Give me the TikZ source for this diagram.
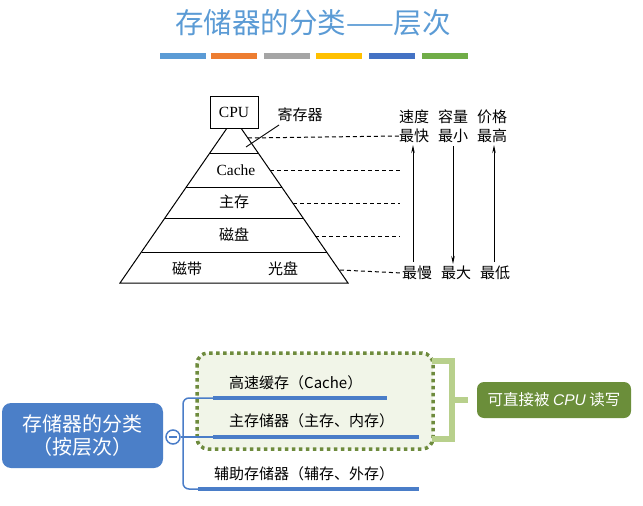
\documentclass[tikz,border=0pt]{standalone}
\usepackage{fontspec}
\setmainfont{Liberation Serif}
\newfontfamily\cjk{Noto Sans CJK SC}
\newfontfamily\lsans{Liberation Sans}
\usetikzlibrary{arrows.meta}
\definecolor{titleblue}{HTML}{5B9BD5}
\definecolor{barA}{HTML}{5B9BD5}
\definecolor{barB}{HTML}{ED7D31}
\definecolor{barC}{HTML}{A5A5A5}
\definecolor{barD}{HTML}{FFC000}
\definecolor{barE}{HTML}{4472C4}
\definecolor{barF}{HTML}{70AD47}
\definecolor{rootblue}{HTML}{4B7FC8}
\definecolor{linkblue}{HTML}{4A7DC8}
\definecolor{dotgreen}{HTML}{6E8B3D}
\definecolor{boxfill}{HTML}{F1F5E8}
\definecolor{brgreen}{HTML}{B8D08C}
\definecolor{nodegreen}{HTML}{6B8E3A}
\tikzset{
  pyr/.style={line width=1pt, draw=black},
  pyrtext/.style={font=\cjk\fontsize{15}{17}\selectfont, inner sep=0pt},
  lattext/.style={font=\fontsize{15.5}{17}\selectfont, inner sep=0pt},
  guide/.style={line width=1pt, dash pattern=on 4pt off 3pt},
  axisarrow/.style={line width=0.9pt, -{Stealth[length=8pt,width=3.5pt]}},
  bar/.style={line width=6pt},
  mmtext/.style={font=\cjk\fontsize{15}{17}\selectfont, inner sep=0pt, anchor=west},
  uline/.style={line width=4pt, draw=linkblue},
  branch/.style={line width=1.5pt, draw=linkblue},
}
\begin{document}
\begin{tikzpicture}[x=1pt,y=-1pt]
\useasboundingbox (0,0) rectangle (643,506);
% title
\node[font=\cjk\fontsize{28.5}{31}\selectfont, text=titleblue, inner sep=0pt] (title) at (313,23) {存储器的分类——层次};
\draw[bar,barA] (160,56) -- (206,56);
\draw[bar,barB] (211,56) -- (257,56);
\draw[bar,barC] (264,56) -- (310,56);
\draw[bar,barD] (316,56) -- (362,56);
\draw[bar,barE] (369,56) -- (415,56);
\draw[bar,barF] (422,56) -- (468,56);
% pyramid
\coordinate (bl) at (120,283);
\coordinate (br) at (348,283);
\coordinate (apex) at (234,118);
\draw[pyr, line join=miter] (bl) -- (apex) -- (br) -- cycle;
\draw[pyr] (210,153) -- (258,153);
\draw[pyr] (186,187) -- (282,187);
\draw[pyr] (165,218) -- (303,218);
\draw[pyr] (141.5,252) -- (326.5,252);
\node[pyr, fill=white, minimum width=48pt, minimum height=32pt, inner sep=0pt, lattext] (cpu) at (234,112) {CPU};
\node[lattext] (cache) at (236,170) {Cache};
\node[pyrtext] (zhucun) at (234,202) {主存};
\node[pyrtext] (cipan) at (234,235) {磁盘};
\node[pyrtext] (cidai) at (187,269) {磁带};
\node[pyrtext] (guangpan) at (283,269) {光盘};
\node[pyrtext] (reg) at (300,115) {寄存器};
\coordinate (regpt) at (246,147);
\draw[line width=0.9pt] (regpt) -- (279,125);
% right labels
\node[pyrtext] (sudu) at (414,117) {速度};
\node[pyrtext] (rongliang) at (453,117) {容量};
\node[pyrtext] (jiage) at (492,117) {价格};
\node[pyrtext] (zuikuai) at (414,136) {最快};
\node[pyrtext] (zuixiao) at (453,136) {最小};
\node[pyrtext] (zuigao) at (492,136) {最高};
\node[pyrtext] (zuiman) at (417,273) {最慢};
\node[pyrtext] (zuida) at (456,273) {最大};
\node[pyrtext] (zuidi) at (495,273) {最低};
% dashed guides
\draw[guide] (248,138) -- (zuikuai.west);
\coordinate (g2) at (400,170);
\coordinate (g3) at (400,203);
\coordinate (g4) at (400,236);
\draw[guide] (270,170) -- (g2);
\draw[guide] (293,203) -- (g3);
\draw[guide] (315,236) -- (g4);
\draw[guide] (340,270) -- (zuiman.west);
% axis arrows
\coordinate (a1b) at (413,262); \coordinate (a1t) at (413,145);
\coordinate (a2b) at (453,264); \coordinate (a2t) at (453,146);
\coordinate (a3b) at (494,262); \coordinate (a3t) at (494,145);
\draw[axisarrow] (a1b) -- (a1t);
\draw[axisarrow] (a2t) -- (a2b);
\draw[axisarrow] (a3b) -- (a3t);
% mind map
\draw[line width=3.5pt, draw=dotgreen, fill=boxfill, dash pattern=on 3.5pt off 3.5pt, rounded corners=11pt] (197,353) rectangle (433,449);
\node[fill=rootblue, rounded corners=9pt, minimum width=161pt, minimum height=65pt, inner sep=0pt, align=center, text=white, font=\cjk\fontsize{20}{23}\selectfont] (root) at (82.5,435.5) {存储器的分类\\（按层次）};
\node[circle, draw=linkblue, line width=1.5pt, fill=white, minimum size=14pt, inner sep=0pt] (col) at (173,437) {};
\draw[line width=1.3pt, draw=linkblue] (169,437) -- (177,437);
\node[mmtext] (t1) at (229,383) {高速缓存（Cache）};
\node[mmtext] (t2) at (229,421) {主存储器（主存、内存）};
\node[mmtext] (t3) at (214,474) {辅助存储器（辅存、外存）};
\coordinate (u1a) at (213,398); \coordinate (u1b) at (387,398);
\coordinate (u2a) at (213,437); \coordinate (u2b) at (419,437);
\coordinate (u3a) at (198,489); \coordinate (u3b) at (419,489);
\draw[branch] (col.east) -- (u2a);
\draw[branch, rounded corners=6pt] (u1a) -- (183,398) -- (183,489) -- (u3a);
\draw[uline] (u1a) -- (u1b);
\draw[uline] (u2a) -- (u2b);
\draw[uline] (u3a) -- (u3b);
% bracket and note
\draw[line width=6pt, draw=brgreen, line join=miter] (432,361) -- (452,361) -- (452,439) -- (432,439);
\node[fill=nodegreen, rounded corners=7pt, minimum width=154pt, minimum height=36pt, inner sep=0pt, text=white, font=\cjk\fontsize{15.5}{17}\selectfont] (note) at (554,400) {可直接被 {\lsans\itshape CPU} 读写};
\coordinate (stem) at (452,400);
\draw[line width=6pt, draw=brgreen] (stem) -- (468,400);
\end{tikzpicture}
\end{document}
